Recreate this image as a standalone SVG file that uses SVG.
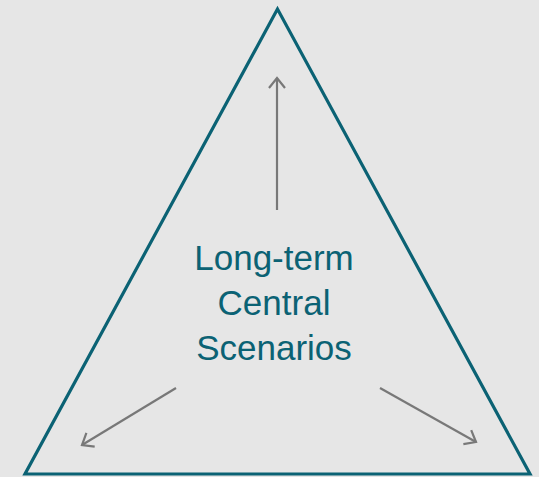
<svg xmlns="http://www.w3.org/2000/svg" width="539" height="477" viewBox="0 0 539 477">
<style>
.tri{fill:none;stroke:#0b6274;stroke-width:3.2;stroke-linejoin:miter}
.arr{fill:none;stroke:#787878;stroke-width:2.2}
.lbl{font-family:"Liberation Sans",Arial,sans-serif;font-size:35px;fill:#0b6274;text-anchor:middle}
</style>
<defs>
<marker id="ah" viewBox="0 0 20 20" refX="18" refY="10" markerWidth="20" markerHeight="20" markerUnits="userSpaceOnUse" orient="auto">
<path d="M8,2 L18,10 L8,18" fill="none" stroke="#787878" stroke-width="2.2"/>
</marker>
</defs>
<rect width="539" height="477" fill="#e6e6e6"/>
<g id="triangle">
<polygon class="tri" points="277.5,9 25,474 530,474"/>
</g>
<g id="connectors">
<line class="arr" x1="277" y1="210" x2="277" y2="78" marker-end="url(#ah)"/>
<line class="arr" x1="176" y1="388" x2="82" y2="445" marker-end="url(#ah)"/>
<line class="arr" x1="380" y1="388" x2="476" y2="442" marker-end="url(#ah)"/>
</g>
<g id="center">
<text class="lbl" x="274" y="270">Long-term</text>
<text class="lbl" x="274" y="315">Central</text>
<text class="lbl" x="274" y="360">Scenarios</text>
</g>
</svg>
